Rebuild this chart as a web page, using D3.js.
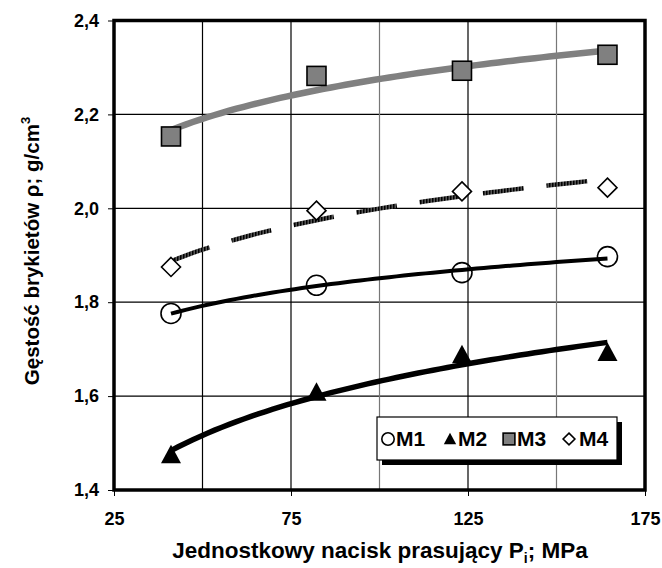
<!DOCTYPE html>
<html><head><meta charset="utf-8">
<script src="https://cdn.jsdelivr.net/npm/d3@7/dist/d3.min.js"></script>
<style>
body{margin:0;background:#fff;}
text{font-family:"Liberation Sans",Arial,sans-serif;font-weight:bold;}
</style></head>
<body><svg id="c" width="662" height="568"></svg>
<script>
const pressures = [41.1, 82.2, 123.3, 164.4];
const m1 = [1.776, 1.836, 1.863, 1.897];
const m2 = [1.475, 1.608, 1.688, 1.693];
const m3 = [2.153, 2.282, 2.293, 2.327];
const m4 = [1.875, 1.995, 2.036, 2.044];
const seriesNames = ["M1", "M2", "M3", "M4"];
const xTicks = [25, 75, 125, 175];
const xGrid = [50, 75, 100, 125, 150];
const yTicks = [1.4, 1.6, 1.8, 2.0, 2.2, 2.4];

const svg = d3.select("#c");
const L = 114, R = 645, T = 20.5, B = 490;
const x = d3.scaleLinear().domain([25, 175]).range([L, R]);
const y = d3.scaleLinear().domain([1.4, 2.4]).range([B, T]);

// gridlines
const g = svg.append("g");
g.selectAll(".hg").data(yTicks.slice(1, -1)).join("line")
  .attr("x1", L).attr("x2", R).attr("y1", d => y(d)).attr("y2", d => y(d))
  .attr("stroke", "#000").attr("stroke-width", 1.2);
g.selectAll(".vg").data(xGrid).join("line")
  .attr("y1", T).attr("y2", B).attr("x1", d => x(d)).attr("x2", d => x(d))
  .attr("stroke", d => (d === 100 || d === 150) ? "#777" : "#000").attr("stroke-width", 1.2);

// axes
const yAxis = d3.axisLeft(y).tickValues(yTicks).tickSize(6).tickPadding(6)
  .tickFormat(d => d3.format(".1f")(d).replace(".", ","));
const ya = svg.append("g").attr("transform", `translate(${L},0)`).call(yAxis);
ya.select(".domain").remove();
ya.selectAll("text").attr("font-size", 18).attr("fill", "#000").attr("x", -15);
ya.selectAll("line").attr("stroke", "#000");

const xAxis = d3.axisBottom(x).tickValues(xTicks).tickSize(6).tickPadding(16).tickFormat(d3.format("d"));
const xa = svg.append("g").attr("transform", `translate(0,${B})`).call(xAxis);
xa.select(".domain").remove();
xa.selectAll("text").attr("font-size", 18).attr("fill", "#000");
xa.selectAll("line").attr("stroke", "#000");

// frame
svg.append("rect").attr("x", L).attr("y", T).attr("width", R - L).attr("height", B - T)
  .attr("fill", "none").attr("stroke", "#000").attr("stroke-width", 3.5);

// log trendlines (least squares on ln x)
function logFit(xs, ys) {
  const lx = xs.map(Math.log);
  const mx = d3.mean(lx), my = d3.mean(ys);
  const a = d3.sum(lx.map((v, i) => (v - mx) * (ys[i] - my))) / d3.sum(lx.map(v => (v - mx) ** 2));
  const b = my - a * mx;
  return d3.range(0, 61).map(i => {
    const xv = xs[0] + (xs[xs.length - 1] - xs[0]) * i / 60;
    return [xv, a * Math.log(xv) + b];
  });
}
const line = d3.line().x(d => x(d[0])).y(d => y(d[1]));

const defs = svg.append("defs");
const pat = defs.append("pattern").attr("id", "hatch").attr("patternUnits", "userSpaceOnUse")
  .attr("width", 3).attr("height", 3);
pat.append("rect").attr("width", 3).attr("height", 3).attr("fill", "#555");
pat.append("rect").attr("width", 1.5).attr("height", 3).attr("fill", "#000");

const lines = [
  {data: m3, stroke: "#808080", w: 6.5, dash: null},
  {data: m4, stroke: "url(#hatch)", w: 4.5, dash: "41,23"},
  {data: m1, stroke: "#000", w: 4, dash: null},
  {data: m2, stroke: "#000", w: 5.5, dash: null}
];
lines.forEach(s => {
  svg.append("path").attr("d", line(logFit(pressures, s.data)))
    .attr("fill", "none").attr("stroke", s.stroke).attr("stroke-width", s.w)
    .attr("stroke-dasharray", s.dash);
});

// markers
function marker(sel, type, cx, cy, k) {
  if (type === "M1") {
    sel.append("circle").attr("cx", cx).attr("cy", cy).attr("r", 10 * k)
      .attr("fill", "#fff").attr("fill-opacity", k < 1 ? 1 : 0).attr("stroke", "#000").attr("stroke-width", 1.6);
  } else if (type === "M2") {
    const s = 10 * k;
    sel.append("path").attr("d", `M${cx},${cy - s}L${cx + s},${cy + s * 0.85}L${cx - s},${cy + s * 0.85}Z`).attr("fill", "#000");
  } else if (type === "M3") {
    const s = 9.5 * k;
    sel.append("rect").attr("x", cx - s).attr("y", cy - s).attr("width", 2 * s).attr("height", 2 * s)
      .attr("fill", "#808080").attr("stroke", "#000").attr("stroke-width", 1.6);
  } else {
    const s = 9.5 * k;
    sel.append("path").attr("d", `M${cx},${cy - s}L${cx + s},${cy}L${cx},${cy + s}L${cx - s},${cy}Z`)
      .attr("fill", "#fff").attr("stroke", "#000").attr("stroke-width", 1.6);
  }
}
const allSeries = [m1, m2, m3, m4];
allSeries.forEach((vals, si) => {
  vals.forEach((v, i) => marker(svg, seriesNames[si], x(pressures[i]), y(v), 1));
});

// legend
const lg = svg.append("g");
lg.append("rect").attr("x", 382).attr("y", 422).attr("width", 240).attr("height", 43).attr("fill", "#000");
lg.append("rect").attr("x", 377).attr("y", 417).attr("width", 240).attr("height", 43)
  .attr("fill", "#fff").attr("stroke", "#000").attr("stroke-width", 1.2);
const legX = [388, 450, 509, 569];
const legTx = [396, 458, 517, 579];
seriesNames.forEach((n, i) => {
  marker(lg, n, legX[i], 439, 0.62);
  lg.append("text").attr("x", legTx[i]).attr("y", 446).attr("font-size", 21).text(n);
});

// axis titles
const xt = svg.append("text").attr("x", 380).attr("y", 558).attr("text-anchor", "middle").attr("font-size", 22.5);
xt.append("tspan").text("Jednostkowy nacisk prasujący P");
xt.append("tspan").attr("font-size", 14).attr("dy", 5).text("i");
xt.append("tspan").attr("dy", -5).text("; MPa");

const yt = svg.append("text").attr("transform", "translate(39,251) rotate(-90)").attr("text-anchor", "middle").attr("font-size", 20.5);
yt.append("tspan").text("Gęstość brykietów ρ; g/cm");
yt.append("tspan").attr("font-size", 13).attr("dy", -9).text("3");
</script></body></html>
